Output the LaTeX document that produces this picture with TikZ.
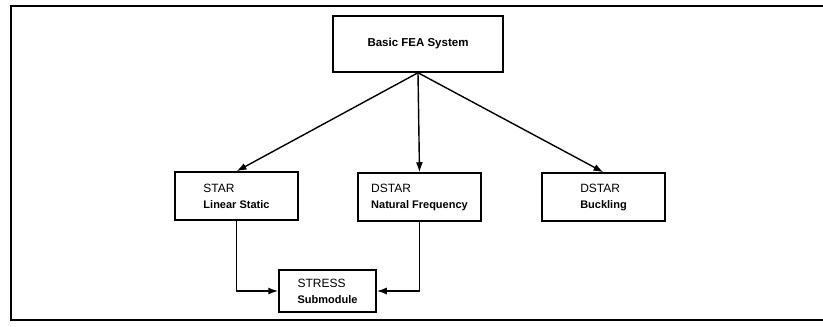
\documentclass[tikz,border=0pt]{standalone}
\usepackage{fontspec}
\setmainfont{Liberation Sans}
\usetikzlibrary{arrows.meta}

\tikzset{
  module/.style={draw, line width=1.5pt, minimum width=123pt, minimum height=48pt,
    align=left, inner sep=2pt, font=\fontsize{12}{14}\selectfont},
  flow/.style={line width=1.4pt, -{Latex[length=10pt,width=7pt]}},
  frame/.style={line width=1.4pt}
}
\newcommand{\modlabel}[2]{#1\\[2pt]{\fontsize{11}{13}\bfseries\selectfont #2}}

\begin{document}
\begin{tikzpicture}[x=1pt, y=-1pt]
    \useasboundingbox (0,0) rectangle (823,327);

    % Frame
    \coordinate (frameTR) at (823,6);
    \coordinate (frameTL) at (11,6);
    \coordinate (frameBL) at (11,320);
    \coordinate (frameBR) at (823,320);
    \draw[frame] (frameTR) -- (frameTL) -- (frameBL) -- (frameBR);

    % Top level
    \node[module, minimum width=170pt, minimum height=56pt,
      font=\fontsize{11.5}{14}\bfseries\selectfont] (fea) at (418,44) {Basic FEA System};

    % Analysis modules
    \node[module] (star) at (236.5,196) {\modlabel{STAR}{Linear Static}};
    \node[module] (natfreq) at (419.5,197) {\modlabel{DSTAR}{Natural Frequency}};
    \node[module] (buckling) at (603.5,197) {\modlabel{DSTAR}{Buckling}};
    \draw[flow] (fea.south) -- (star.north);
    \draw[flow] (fea.south) -- (natfreq.north);
    \draw[flow] (fea.south) -- (buckling.north);

    % Stress submodule
    \node[module, minimum width=97pt, minimum height=42pt] (stress) at (327.5,291)
      {\modlabel{STRESS}{Submodule}};
    \draw[flow] (star.south) |- (stress.west);
    \draw[flow] (natfreq.south) |- (stress.east);
\end{tikzpicture}
\end{document}
